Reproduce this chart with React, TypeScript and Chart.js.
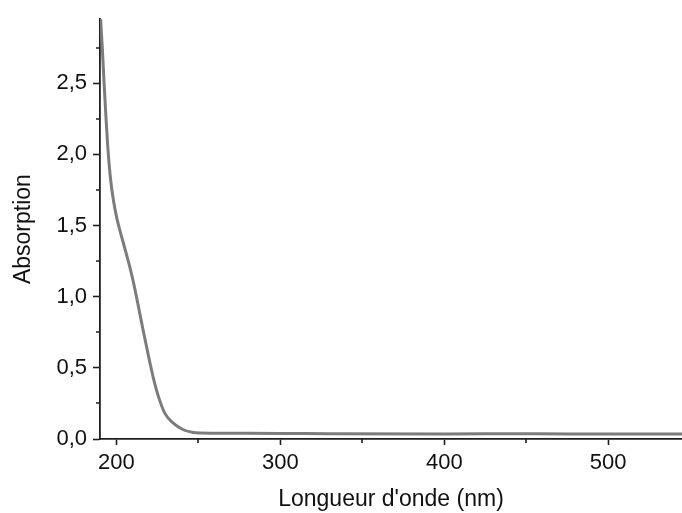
import React, { useEffect, useRef } from 'react';
import { Chart, registerables } from 'chart.js';

Chart.register(...registerables);

const wavelengths = [190.3, 190.5, 191.4, 192.4, 193.5, 194.7, 196.5, 198.3, 200.3, 202.5, 205.2, 207.9, 210.3, 212.4, 214.4, 216.4, 218.5, 220.6, 222.9, 225.7, 229.6, 234.7, 240.8, 246, 251, 270, 300, 330, 400, 455, 500, 545];
const absorption = [3.0, 2.93, 2.75, 2.52, 2.29, 2.06, 1.82, 1.67, 1.55, 1.45, 1.337, 1.222, 1.106, 0.99, 0.875, 0.759, 0.643, 0.528, 0.412, 0.296, 0.18, 0.111, 0.065, 0.048, 0.042, 0.04, 0.039, 0.037, 0.036, 0.037, 0.035, 0.035];

const xRange = [190, 545];
const yRange = [0, 2.95];
const xMinorTicks = [250, 350, 450];
const yMinorTicks = [0.25, 0.75, 1.25, 1.75, 2.25, 2.75];

const xTitle = "Longueur d'onde (nm)";
const yTitle = 'Absorption';

const FONT = '"Liberation Sans", Arial, sans-serif';
const AXIS_COLOR = '#1f1f1f';

const minorTicksPlugin = {
  id: 'minorTicks',
  afterDraw(chart: any) {
    const { ctx, chartArea, scales } = chart;
    ctx.save();
    ctx.strokeStyle = AXIS_COLOR;
    ctx.lineWidth = 1.6;
    ctx.beginPath();
    for (const v of xMinorTicks) {
      const px = Math.round(scales.x.getPixelForValue(v));
      ctx.moveTo(px, chartArea.bottom);
      ctx.lineTo(px, chartArea.bottom + 4);
    }
    for (const v of yMinorTicks) {
      const py = Math.round(scales.y.getPixelForValue(v));
      ctx.moveTo(chartArea.left, py);
      ctx.lineTo(chartArea.left - 4, py);
    }
    ctx.stroke();
    ctx.restore();
  },
};

export default function App() {
  const canvasRef = useRef<HTMLCanvasElement | null>(null);

  useEffect(() => {
    document.body.style.margin = '0';
    const canvas = canvasRef.current;
    if (!canvas) return;
    const chart = new Chart(canvas, {
      type: 'line',
      data: {
        datasets: [
          {
            data: wavelengths.map((w, i) => ({ x: w, y: absorption[i] })),
            borderColor: '#7c7c7c',
            borderWidth: 3,
            pointRadius: 0,
            cubicInterpolationMode: 'monotone',
            fill: false,
          },
        ],
      },
      options: {
        responsive: false,
        animation: false,
        events: [],
        layout: { padding: { top: 15, right: 0, left: 0, bottom: 0 } },
        plugins: { legend: { display: false }, tooltip: { enabled: false } },
        scales: {
          x: {
            type: 'linear',
            min: xRange[0],
            max: xRange[1],
            afterFit: (s: any) => {
              s.height = 74;
            },
            border: { display: true, color: AXIS_COLOR, width: 1.8 },
            grid: { drawOnChartArea: false, drawTicks: true, tickLength: 6, tickColor: AXIS_COLOR, tickWidth: 1.6 },
            ticks: {
              stepSize: 100,
              includeBounds: false,
              padding: 5,
              maxRotation: 0,
              color: '#111',
              font: { family: FONT, size: 22 },
              callback: (v: any) => String(v),
            },
            title: {
              display: true,
              text: xTitle,
              color: '#111',
              font: { family: FONT, size: 23 },
              padding: { top: 0, bottom: 0 },
            },
          },
          y: {
            type: 'linear',
            min: yRange[0],
            max: yRange[1],
            afterFit: (s: any) => {
              s.width = 100;
            },
            border: { display: true, color: AXIS_COLOR, width: 1.8 },
            grid: { drawOnChartArea: false, drawTicks: true, tickLength: 7, tickColor: AXIS_COLOR, tickWidth: 1.6 },
            ticks: {
              stepSize: 0.5,
              includeBounds: false,
              padding: 6,
              color: '#111',
              font: { family: FONT, size: 22 },
              callback: (v: any) => Number(v).toFixed(1).replace('.', ','),
            },
            title: {
              display: true,
              text: yTitle,
              color: '#111',
              font: { family: FONT, size: 23 },
              padding: { top: 10, bottom: 0 },
            },
          },
        },
      },
      plugins: [minorTicksPlugin],
    });
    return () => chart.destroy();
  }, []);

  return (
    <div style={{ position: 'absolute', left: 0, top: 0, width: 682, height: 513 }}>
      <canvas ref={canvasRef} width={682} height={513} />
    </div>
  );
}
